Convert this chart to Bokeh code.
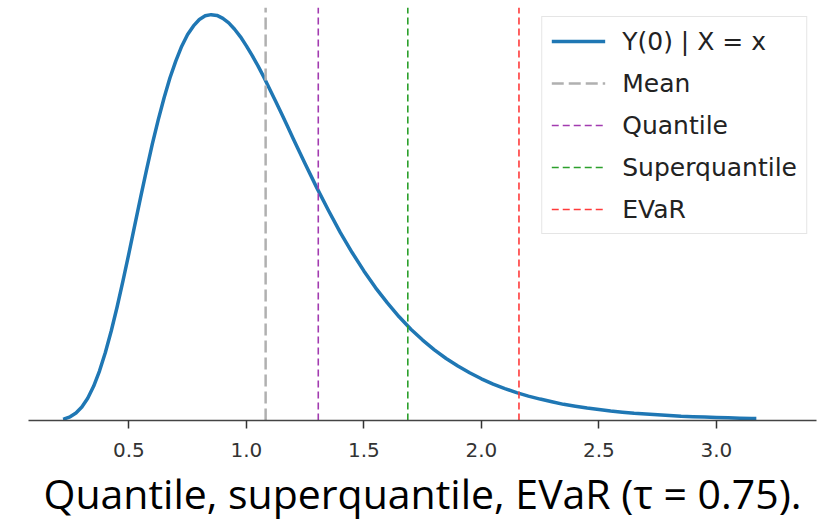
from bokeh.plotting import figure
from bokeh.models import Range1d, Legend, LegendItem, FixedTicker, Title, ColumnDataSource
from bokeh.embed import file_html
from bokeh.resources import INLINE

# Density curve of Y(0) | X = x
x_vals = [0.22, 0.225, 0.25, 0.275, 0.30, 0.325, 0.35, 0.375, 0.40, 0.425, 0.45, 0.475,
          0.50, 0.525, 0.55, 0.575, 0.60, 0.625, 0.65, 0.675, 0.70, 0.725, 0.75, 0.775,
          0.80, 0.825, 0.85, 0.875, 0.90, 0.925, 0.95, 0.975, 1.00, 1.025, 1.05, 1.075,
          1.10, 1.125, 1.15, 1.175, 1.20, 1.25, 1.30, 1.35,
          1.40, 1.45, 1.50, 1.55, 1.60, 1.65, 1.70, 1.75, 1.80, 1.85, 1.90, 1.95,
          2.00, 2.05, 2.10, 2.15, 2.20, 2.25, 2.30, 2.35, 2.40, 2.45, 2.50, 2.55,
          2.60, 2.65, 2.70, 2.75, 2.80, 2.85, 2.90, 2.95, 3.00, 3.05, 3.10, 3.15, 3.17]
density = [0.0035, 0.0042, 0.0098, 0.0199, 0.0358, 0.0592, 0.091, 0.1316, 0.181, 0.2381, 0.302, 0.3716,
           0.444, 0.519, 0.594, 0.666, 0.736, 0.800, 0.859, 0.912, 0.957, 0.996, 1.027, 1.050,
           1.067, 1.077, 1.080, 1.078, 1.070, 1.058, 1.041, 1.021, 0.997, 0.971, 0.943, 0.913,
           0.881, 0.849, 0.816, 0.783, 0.749, 0.683, 0.619, 0.558,
           0.500, 0.447, 0.398, 0.353, 0.313, 0.276, 0.243, 0.214, 0.188, 0.165, 0.145, 0.127,
           0.111, 0.097, 0.085, 0.074, 0.065, 0.057, 0.050, 0.043, 0.038, 0.033, 0.029, 0.025,
           0.022, 0.019, 0.017, 0.015, 0.013, 0.011, 0.010, 0.009, 0.008, 0.007, 0.006, 0.005, 0.005]

# Risk measures (vertical dashed lines)
measure_names = ["Mean", "Quantile", "Superquantile", "EVaR"]
measure_values = [1.082, 1.306, 1.687, 2.160]
measure_colors = ["#b0b0b0", "#a23bb0", "#2ca02c", "#ff3b3b"]
measure_widths = [2.5, 1.6, 1.6, 1.6]
measure_dashes = ["12 5", "7 4", "7 4", "7 4"]

tick_values = [0.5, 1.0, 1.5, 2.0, 2.5, 3.0]
tick_labels = ["0.5", "1.0", "1.5", "2.0", "2.5", "3.0"]

curve_label = "Y(0) | X = x"
caption = "Quantile, superquantile, EVaR (\u03c4 = 0.75)."

X_START, X_END = 0.073, 3.426
Y_START, Y_END = 0.0, 1.099

p = figure(width=818, height=524, output_backend="svg", toolbar_location=None,
           x_range=Range1d(X_START, X_END), y_range=Range1d(Y_START, Y_END),
           y_axis_location=None, title_location=None,
           min_border_left=28, min_border_right=2, min_border_top=7, min_border_bottom=0)
p.outline_line_color = None
p.grid.visible = False
p.background_fill_color = "white"

curve = p.line(x_vals, density, line_color="#1f77b4", line_width=3.5, line_join="round")

items = [LegendItem(label=curve_label, renderers=[curve])]
for name, val, col, w, d in zip(measure_names, measure_values, measure_colors, measure_widths, measure_dashes):
    src = ColumnDataSource(dict(x0=[val], y0=[Y_START], x1=[val], y1=[Y_END]))
    r = p.segment(x0="x0", y0="y0", x1="x1", y1="y1", source=src,
                  line_color=col, line_width=w, line_dash=d)
    items.append(LegendItem(label=name, renderers=[r]))

ax = p.xaxis[0]
ax.ticker = FixedTicker(ticks=tick_values)
ax.major_label_overrides = dict(zip(tick_values, tick_labels))
ax.minor_tick_line_color = None
ax.major_tick_in = 0
ax.major_tick_out = 8
ax.major_tick_line_color = "#333333"
ax.major_tick_line_width = 1.5
ax.axis_line_color = "#444444"
ax.axis_line_width = 1.5
ax.major_label_text_font = "DejaVu Sans"
ax.major_label_text_font_size = "20px"
ax.major_label_text_color = "#333333"
ax.major_label_standoff = 14

legend = Legend(items=items, location="top_right", margin=9, padding=9,
                spacing=12, glyph_width=54, glyph_height=30, label_height=30,
                label_standoff=17, label_text_font="DejaVu Sans",
                label_text_font_size="25px", label_text_color="#222222",
                border_line_color="#cccccc", border_line_width=1.5,
                background_fill_color="white", background_fill_alpha=0.8)
p.add_layout(legend, "center")

p.add_layout(Title(text=caption, align="center", text_font="Open Sans",
                   text_font_size="41px", text_font_style="normal",
                   text_color="black", standoff=7), "below")

open("out.html", "w").write(file_html(p, INLINE))
